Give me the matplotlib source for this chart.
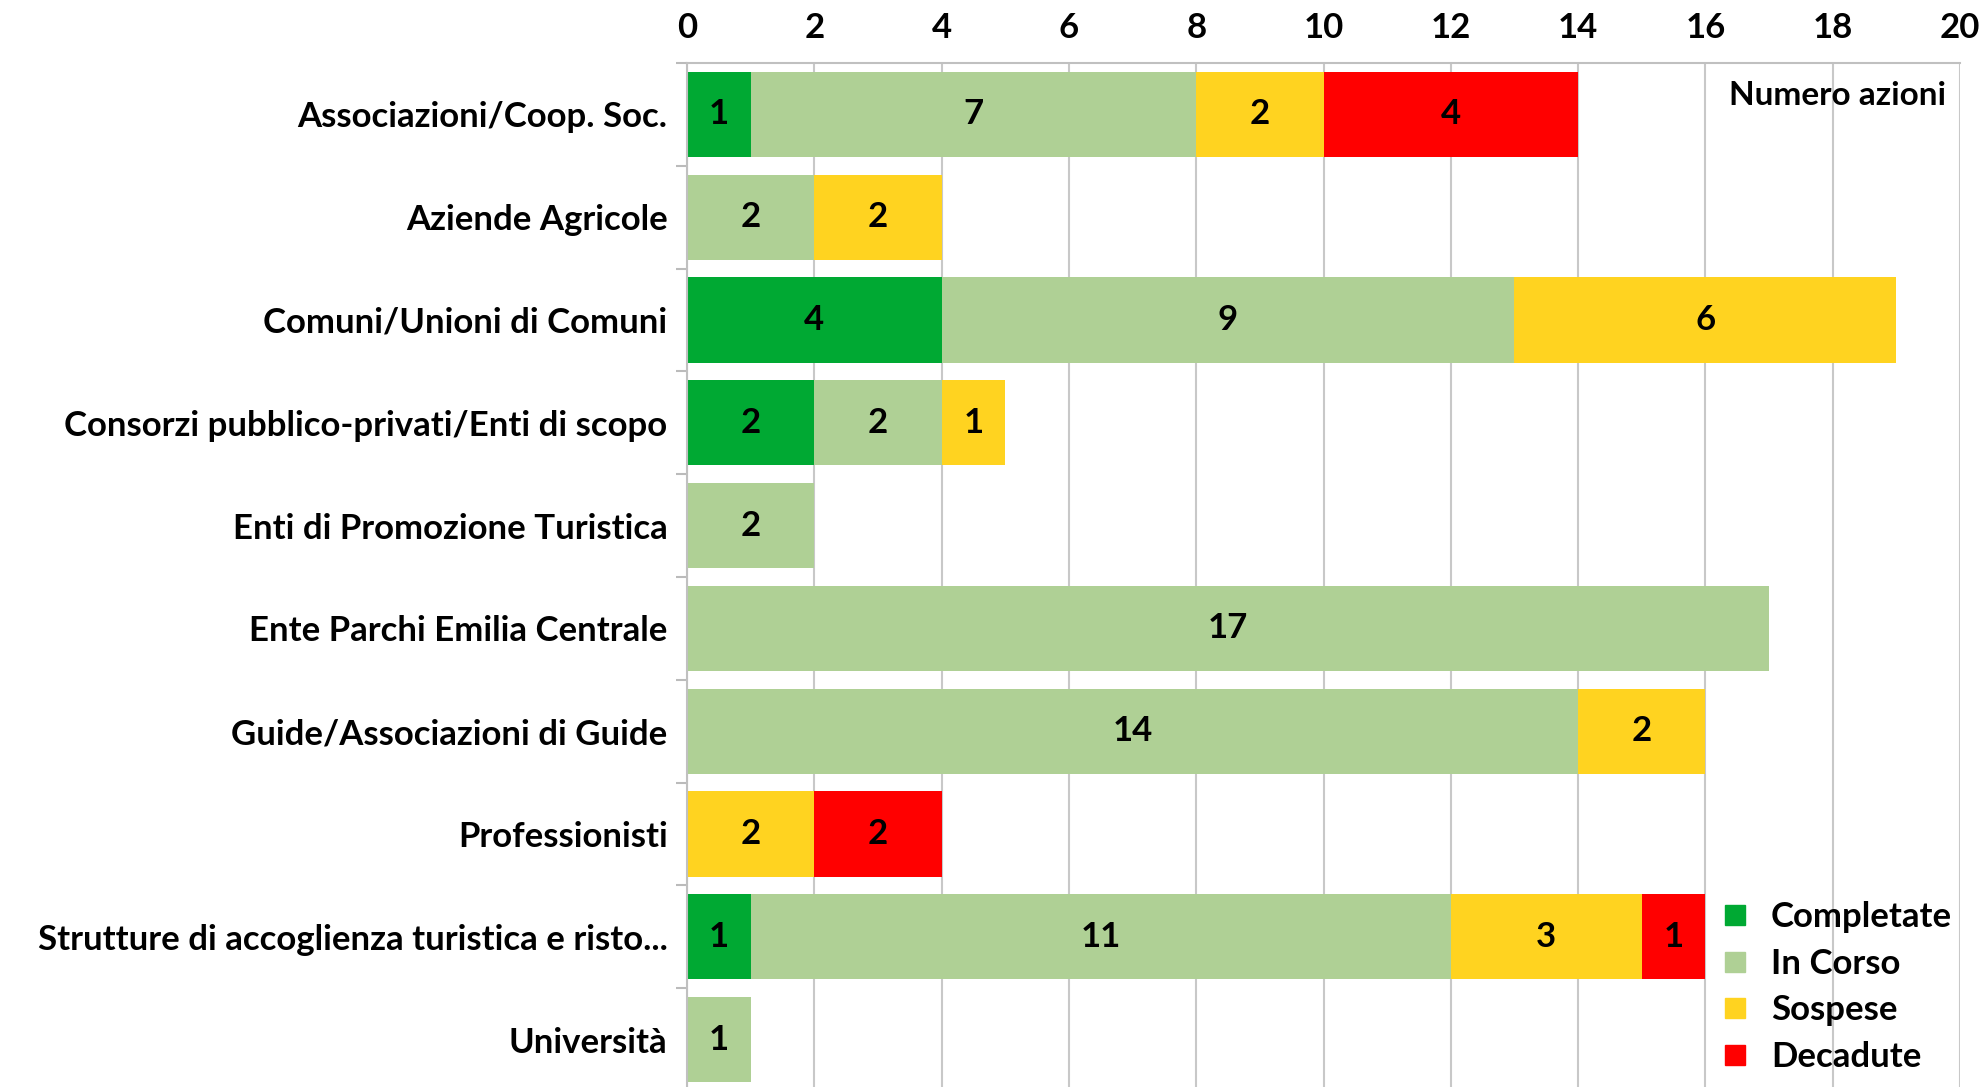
import matplotlib
matplotlib.use("Agg")
import matplotlib.pyplot as plt
from matplotlib.lines import Line2D
import numpy as np

categories = [
    "Associazioni/Coop. Soc.",
    "Aziende Agricole",
    "Comuni/Unioni di Comuni",
    "Consorzi pubblico-privati/Enti di scopo",
    "Enti di Promozione Turistica",
    "Ente Parchi Emilia Centrale",
    "Guide/Associazioni di Guide",
    "Professionisti",
    "Strutture di accoglienza turistica e risto...",
    "Università",
]
completate = [1, 0, 4, 2, 0, 0, 0, 0, 1, 0]
in_corso = [7, 2, 9, 2, 2, 17, 14, 0, 11, 1]
sospese = [2, 2, 6, 1, 0, 0, 2, 2, 3, 0]
decadute = [4, 0, 0, 0, 0, 0, 0, 2, 1, 0]
series_names = ["Completate", "In Corso", "Sospese", "Decadute"]
colors = ["#00A933", "#AFD095", "#FFD320", "#FF0000"]
x_ticks = list(range(0, 21, 2))

plt.rcParams['font.family'] = ['Lato', 'DejaVu Sans']
FS = 25

W, H = 1985, 1087
fig = plt.figure(figsize=(W / 100, H / 100), dpi=100)
top_px, h_px = 63, 1028
ax = fig.add_axes([687 / W, (H - top_px - h_px) / H, (1960 - 687) / W, h_px / H])

y = np.arange(len(categories))
left = np.zeros(len(categories))
for vals, name, col in zip([completate, in_corso, sospese, decadute], series_names, colors):
    vals = np.array(vals, dtype=float)
    bars = ax.barh(y, vals, left=left, height=0.83, color=col, label=name, zorder=2)
    for b, v in zip(bars, vals):
        if v > 0:
            ax.text(b.get_x() + b.get_width() / 2, b.get_y() + b.get_height() / 2,
                    f"{int(v)}", ha="center", va="center", fontsize=FS,
                    fontweight="bold", color="black", zorder=3)
    left += vals

ax.set_xlim(0, 20)
ax.set_ylim(len(categories) - 0.5, -0.5)
ax.set_xticks(x_ticks)
ax.xaxis.tick_top()
ax.tick_params(axis="x", length=0, pad=14, labelsize=FS)
for lab in ax.get_xticklabels():
    lab.set_fontweight("bold")
ax.set_yticks(y)
ax.set_yticklabels(categories, fontsize=FS, fontweight="bold")
ax.tick_params(axis="y", length=0, pad=14)
ax.set_yticks(np.arange(-0.5, len(categories), 1), minor=True)
ax.tick_params(axis="y", which="minor", length=8, color="#BBBBBB", width=1.5)
ax.grid(axis="x", color="#C8C8C8", linewidth=1.5, zorder=0)
ax.set_axisbelow(True)
for s in ["right", "bottom"]:
    ax.spines[s].set_visible(False)
for s in ["top", "left"]:
    ax.spines[s].set_color("#C0C0C0")
    ax.spines[s].set_linewidth(1.5)

ax.text(0.989, 0.968, "Numero azioni", transform=ax.transAxes, ha="right", va="center",
        fontsize=FS - 1, fontweight="bold")

handles = [Line2D([0], [0], marker="s", linestyle="none", markersize=14,
                  markerfacecolor=c, markeredgecolor=c) for c in colors]
leg = ax.legend(handles, series_names, loc="lower right", bbox_to_anchor=(1.013, -0.006),
                frameon=False, prop={"size": FS, "weight": "bold"},
                handletextpad=0.45, labelspacing=0.42, borderaxespad=0.3,
                handlelength=1.2)

fig.savefig("out.png", dpi=100)
